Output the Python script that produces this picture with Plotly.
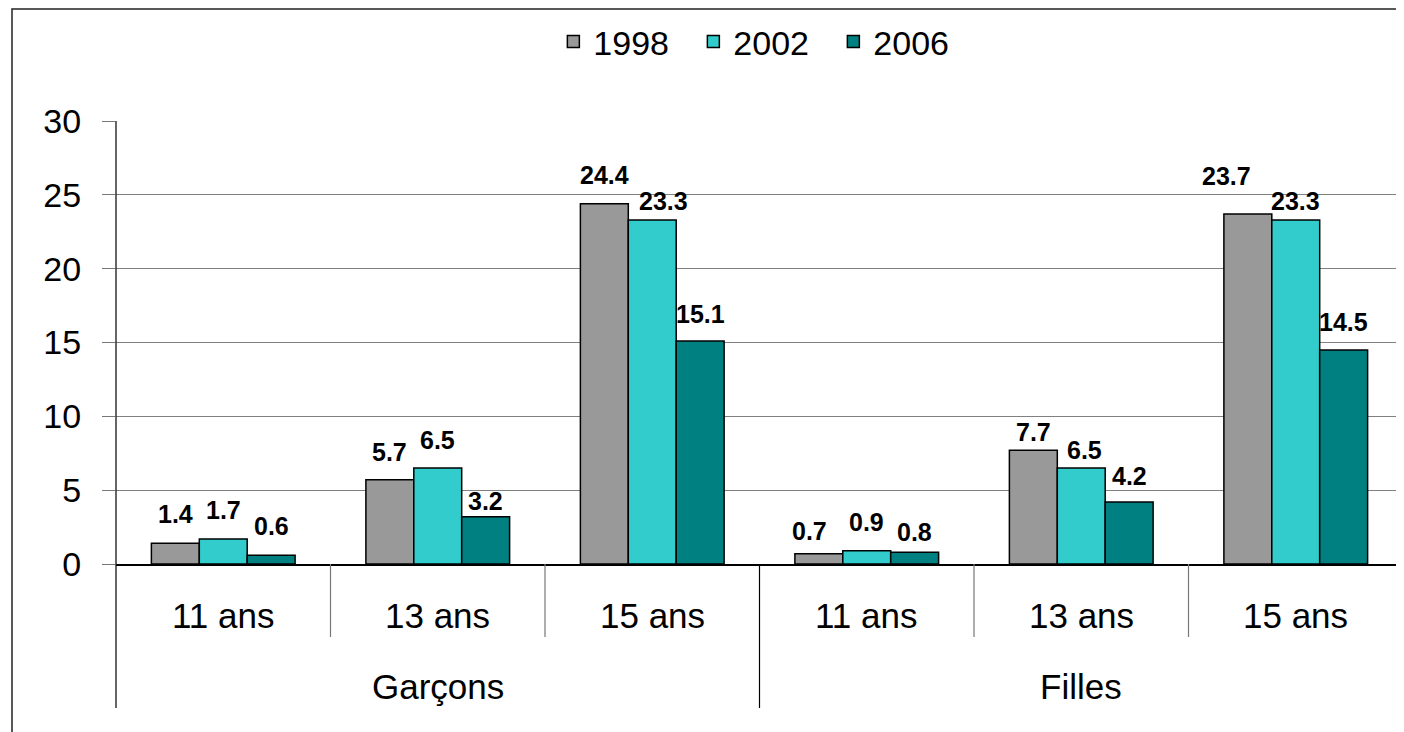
import plotly.graph_objects as go

groups = ["Garçons", "Filles"]
ages = ["11 ans", "13 ans", "15 ans"]
years = ["1998", "2002", "2006"]
v1998 = [1.4, 5.7, 24.4, 0.7, 7.7, 23.7]
v2002 = [1.7, 6.5, 23.3, 0.9, 6.5, 23.3]
v2006 = [0.6, 3.2, 15.1, 0.8, 4.2, 14.5]
y_ticks = [0, 5, 10, 15, 20, 25, 30]

series = [v1998, v2002, v2006]
colors = ["#999999", "#33CCCC", "#008080"]
FONT = "Arial, Liberation Sans, Helvetica, sans-serif"

# label placement style (pixels): distance above bar top, horizontal nudge
label_dy = [[28, 27, 28, 22, 17, 37],
            [28, 27, 18, 28, 17, 18],
            [28, 15, 26, 19, 25, 27]]
label_dx = [[0, 0, 0, -9, 0, -21],
            [0, 0, 11, 0, 3, 0],
            [0, 0, 0, 0, 0, 0]]

n_cat = len(groups) * len(ages)
xpos = list(range(n_cat))
inner_labels = [a for g in groups for a in ages]

bargap = 0.33
bw = (1 - bargap) / len(series)

fig = go.Figure()
for k, (name, vals, col) in enumerate(zip(years, series, colors)):
    fig.add_trace(go.Bar(
        x=xpos, y=vals, name=name,
        marker=dict(color=col, line=dict(color="black", width=1.5)),
    ))

annotations = []
# value labels above bars
for k, vals in enumerate(series):
    off = (k - (len(series) - 1) / 2) * bw
    for i, v in enumerate(vals):
        annotations.append(dict(
            x=i + off, y=v, xref="x", yref="y", text=f"<b>{v:.1f}</b>",
            showarrow=False, yanchor="middle",
            yshift=label_dy[k][i] + 1, xshift=label_dx[k][i],
            font=dict(family=FONT, size=25, color="black"),
        ))

# helpers: positions relative to plot area (screen px)
plot_top, plot_bottom = 121, 564
ph = plot_bottom - plot_top
def py(p):
    return (plot_bottom - p) / ph

for i, lab in enumerate(inner_labels):
    annotations.append(dict(
        x=i, y=py(615), xref="x", yref="paper", text=lab, showarrow=False,
        yanchor="middle", font=dict(family=FONT, size=35, color="black"),
    ))
for gi, g in enumerate(groups):
    center = gi * len(ages) + (len(ages) - 1) / 2
    annotations.append(dict(
        x=center, y=py(686), xref="x", yref="paper", text=g, showarrow=False,
        yanchor="middle", font=dict(family=FONT, size=35, color="black"),
    ))

shapes = []
# outer chart frame
shapes.append(dict(type="rect", xref="paper", yref="paper",
                   x0=(12 - 116) / 1287, x1=1.2, y0=-1.0, y1=py(9),
                   line=dict(color="#222222", width=1.5), fillcolor="rgba(0,0,0,0)"))
# left and right vertical lines down through the label rows
for xp in [0, 1]:
    shapes.append(dict(type="line", xref="paper", yref="paper",
                       x0=xp, x1=xp, y0=py(708), y1=1,
                       line=dict(color="black", width=1.2)))
# dividers between age categories and between groups
for b in range(1, n_cat):
    xb = b - 0.5
    if b % len(ages) == 0:
        shapes.append(dict(type="line", xref="x", yref="paper",
                           x0=xb, x1=xb, y0=py(708), y1=0,
                           line=dict(color="black", width=1.2)))
    else:
        shapes.append(dict(type="line", xref="x", yref="paper",
                           x0=xb, x1=xb, y0=py(637), y1=0,
                           line=dict(color="#777777", width=1.2)))

fig.update_layout(
    width=1396, height=724,
    margin=dict(l=108, r=1, t=113, b=168),
    paper_bgcolor="white", plot_bgcolor="white",
    barmode="group", bargap=bargap, bargroupgap=0,
    font=dict(family=FONT, color="black"),
    showlegend=True,
    legend=dict(orientation="h", x=0.503, xanchor="center", y=py(42), yanchor="middle",
                font=dict(family=FONT, size=34, color="black"),
                itemwidth=30, entrywidth=95, entrywidthmode="pixels",
                bgcolor="rgba(0,0,0,0)"),
    xaxis=dict(range=[-0.5, n_cat - 0.5], showticklabels=False, ticks="",
               showgrid=False, zeroline=False, showline=True,
               linecolor="black", linewidth=1.5, fixedrange=True),
    yaxis=dict(range=[0, 30], tickvals=y_ticks, ticktext=[str(t) for t in y_ticks],
               ticks="outside", ticklen=13, tickcolor="#777777", tickwidth=1.2,
               ticklabelstandoff=14,
               showgrid=True, gridcolor="#808080", gridwidth=1.2,
               zeroline=False, showline=False,
               tickfont=dict(family=FONT, size=34, color="black")),
    annotations=annotations,
    shapes=shapes,
)

fig.write_html("out.html")
